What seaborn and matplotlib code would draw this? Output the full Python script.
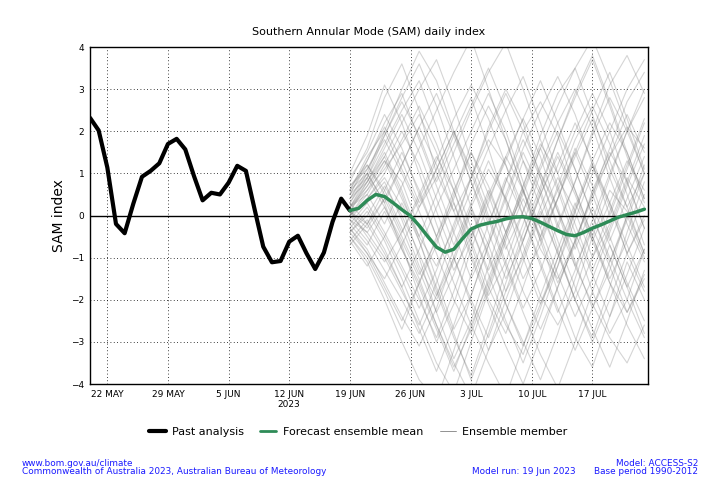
import numpy as np
import pandas as pd
import seaborn as sns
import matplotlib.pyplot as plt
from matplotlib.lines import Line2D

# Past analysis, daily 20 May - 19 Jun 2023
past_vals = [2.32, 2.02, 1.14, -0.2, -0.42, 0.28, 0.92, 1.06, 1.24, 1.7,
             1.82, 1.57, 0.94, 0.36, 0.54, 0.5, 0.78, 1.18, 1.06, 0.15,
             -0.74, -1.11, -1.08, -0.62, -0.48, -0.9, -1.27, -0.88, -0.15, 0.4,
             0.12]

# Forecast ensemble mean, daily from 19 Jun 2023
mean_vals = [0.12, 0.17, 0.36, 0.5, 0.45, 0.3, 0.14, -0.01, -0.24, -0.5,
             -0.75, -0.87, -0.8, -0.55, -0.32, -0.23, -0.18, -0.14, -0.08, -0.04,
             -0.03, -0.07, -0.16, -0.26, -0.36, -0.45, -0.48, -0.4, -0.3, -0.22,
             -0.13, -0.04, 0.02, 0.08, 0.15]

# Ensemble members, every second day from 19 Jun 2023
members = [
    [0.1, 0.8, 1.5, 0.6, -0.5, -1.2, -0.3, 0.9, 1.8, 1.2, 0.2, -0.8, -1.5, -0.6, 0.5, 1.4, 2.1, 1.6],
    [-0.3, -0.8, -1.6, -2.4, -3.1, -2.2, -1.0, 0.2, 1.1, 0.4, -0.7, -1.9, -2.6, -1.8, -0.5, 0.6, 0.1, -0.9],
    [0.5, 1.3, 2.2, 2.9, 1.8, 0.7, -0.4, -1.5, -0.6, 0.8, 2.0, 2.7, 1.9, 0.6, -0.5, -1.6, -2.3, -1.4],
    [0.0, 0.4, 0.9, 0.2, -1.0, -2.3, -3.4, -2.5, -1.2, 0.1, 1.3, 0.5, -0.8, -2.0, -2.9, -1.7, -0.4, 0.8],
    [0.8, 1.6, 2.8, 3.6, 2.5, 1.0, 0.1, 0.9, 2.1, 3.0, 2.2, 0.9, -0.3, 0.8, 2.0, 3.1, 3.8, 2.9],
    [-0.6, -1.2, -0.5, 0.3, -0.6, -1.8, -2.9, -3.8, -2.6, -1.3, -0.2, 1.0, 0.2, -1.1, -2.2, -1.3, 0.0, 1.2],
    [0.2, 0.6, 1.1, 1.7, 2.4, 1.5, 0.3, -0.9, -2.0, -2.8, -1.7, -0.5, 0.7, 1.8, 2.6, 1.7, 0.5, -0.7],
    [-0.1, -0.4, 0.2, -0.7, -1.9, -3.0, -2.1, -0.8, 0.3, 1.4, 2.3, 1.4, 0.1, -1.2, -0.3, 0.9, 2.0, 2.8],
    [0.4, 1.0, 0.3, -0.8, -1.6, -0.7, 0.5, 1.7, 2.6, 1.8, 0.6, -0.6, -1.8, -2.9, -3.6, -2.4, -1.1, -2.0],
    [0.6, 1.4, 2.0, 1.1, 0.2, 0.9, 1.9, 2.8, 1.6, 0.3, -1.0, -2.1, -1.2, 0.1, 1.2, 0.3, -0.9, -1.8],
    [-0.4, 0.1, -0.6, -1.5, -2.5, -3.5, -4.2, -3.0, -1.8, -0.6, 0.4, -0.5, -1.6, -0.7, 0.6, 1.5, 0.8, -0.3],
    [0.3, 0.9, 1.7, 2.5, 3.2, 2.1, 0.8, -0.3, -1.3, -0.4, 0.7, 1.9, 2.9, 3.5, 2.4, 1.1, 0.2, 1.0],
    [0.1, -0.5, -1.1, -0.4, 0.5, 1.4, 0.6, -0.6, -1.7, -2.6, -3.3, -2.2, -1.0, 0.2, 1.3, 2.2, 1.5, 0.4],
    [1.0, 1.9, 3.1, 2.2, 1.0, -0.2, -1.3, -0.5, 0.6, -0.4, -1.5, -0.7, 0.4, 1.6, 0.7, -0.5, -1.6, -2.5],
    [-0.2, 0.3, 0.8, -0.1, -1.2, -2.0, -1.1, 0.1, -0.9, -2.1, -3.0, -3.9, -2.8, -1.5, -0.3, -1.2, -2.3, -1.5],
    [0.2, 0.7, 1.3, 0.8, -0.3, -1.5, -2.7, -1.9, -0.7, 0.5, 1.6, 2.5, 3.3, 2.4, 1.2, 0.0, 1.1, 2.2],
    [-0.5, -1.0, -1.8, -2.7, -1.6, -0.5, 0.6, 1.5, 0.7, -0.4, 0.5, 1.6, 0.6, -0.6, -1.8, -2.8, -2.0, -0.8],
    [0.7, 1.2, 0.5, -0.4, 0.4, 1.3, 2.3, 3.1, 2.3, 1.2, 0.0, -1.2, -2.3, -1.3, -0.1, 1.0, 2.0, 3.0],
    [0.0, 0.5, 1.2, 2.0, 1.2, 0.1, -1.0, -2.1, -3.2, -2.3, -1.1, 0.0, 0.9, 0.1, -1.0, -0.2, 0.9, 0.2],
    [-0.7, -0.2, 0.4, -0.5, -1.4, -0.6, 0.3, -0.7, -1.9, -1.1, 0.1, 1.2, 2.2, 3.0, 2.1, 0.9, -0.2, -1.1],
    [0.4, 1.1, 1.8, 1.0, 0.1, -0.9, -2.0, -2.8, -1.7, -0.5, 0.6, -0.3, -1.4, -2.4, -1.5, -0.4, 0.7, 1.7],
    [0.1, -0.3, 0.4, 1.2, 2.1, 2.9, 1.9, 0.8, -0.2, 0.8, 1.8, 0.9, -0.2, -1.2, -2.1, -2.9, -3.5, -2.6],
    [0.9, 1.5, 2.4, 1.6, 0.5, -0.5, 0.4, 1.5, 0.5, -0.7, -1.8, -2.7, -1.7, -0.6, 0.5, 1.6, 2.7, 3.4],
    [-0.3, 0.2, -0.5, -1.3, -2.2, -1.3, -0.2, 0.9, 2.0, 2.9, 2.0, 1.0, 0.1, -0.8, 0.2, -0.7, -1.7, -0.8],
    [0.5, 0.9, 0.2, -0.6, -1.5, -2.6, -3.6, -2.7, -1.5, -0.4, 0.7, 1.7, 1.0, 2.0, 2.9, 2.0, 0.8, -0.3],
    [0.2, 0.8, 1.6, 2.4, 1.5, 0.4, -0.7, 0.3, 1.3, 0.4, -0.6, 0.5, 1.5, 0.6, -0.5, -1.5, -0.6, 0.5],
    [-0.1, -0.6, -1.3, -2.0, -2.8, -1.9, -0.8, 0.2, -0.7, -1.8, -1.0, 0.1, -0.9, -2.0, -3.0, -2.0, -0.9, 0.0],
    [0.6, 1.3, 2.1, 1.3, 0.3, 1.1, 2.0, 1.1, 0.0, -1.1, -2.2, -1.3, -0.2, 0.8, 1.9, 2.8, 2.0, 1.0],
    [0.3, -0.2, -0.9, -1.7, -0.8, 0.2, 1.1, 2.0, 2.9, 2.0, 0.8, -0.3, 0.6, 1.5, 0.5, -0.6, 0.4, 1.4],
    [-0.4, 0.0, 0.7, 0.0, -0.9, -1.9, -1.0, -2.0, -2.9, -1.8, -0.6, 0.5, 1.4, 0.5, -0.6, 0.3, 1.3, 0.6],
    [0.1, 0.7, 1.4, 2.2, 3.0, 3.7, 2.6, 1.3, 0.2, -0.8, 0.1, 1.1, 2.0, 1.1, 0.0, -1.0, -2.0, -2.9],
    [0.0, 0.3, -0.4, -1.2, -2.0, -2.9, -1.8, -0.6, 0.5, 1.4, 0.6, -0.5, 0.4, 1.4, 2.3, 1.3, 0.2, -0.9],
    [0.3, 1.0, 2.0, 3.0, 3.9, 3.2, 2.0, 0.8, -0.4, -1.5, -0.6, 0.6, 1.8, 2.9, 3.8, 2.7, 1.5, 0.4],
    [-0.5, -1.1, -2.0, -3.0, -3.9, -4.4, -3.2, -1.9, -0.7, 0.4, 1.5, 0.6, -0.6, -1.7, -2.7, -3.6, -2.5, -1.3],
    [0.2, 0.5, -0.2, 0.7, 1.6, 2.5, 3.4, 4.2, 3.0, 1.8, 0.6, -0.6, 0.4, 1.5, 2.5, 3.4, 2.3, 1.1],
    [-0.2, -0.7, 0.1, -0.8, -1.7, -2.7, -3.7, -2.6, -3.5, -4.3, -3.1, -1.9, -0.8, 0.3, -0.6, -1.6, -2.6, -3.4],
    [0.7, 1.1, 1.9, 2.7, 1.9, 0.8, 1.7, 2.6, 3.5, 2.5, 1.3, 0.2, -0.9, -2.0, -1.0, 0.1, 1.2, 2.3],
    [0.0, -0.4, -1.0, -1.8, -2.6, -1.6, -0.4, 0.6, 1.6, 2.5, 3.3, 2.2, 1.0, -0.2, -1.3, -0.3, 0.8, 1.9],
    [0.4, 0.8, 1.4, 0.5, -0.6, -1.7, -2.8, -3.9, -2.8, -1.6, -0.4, 0.7, 1.8, 2.8, 3.7, 2.6, 1.4, 0.3],
    [-0.1, 0.4, 1.0, 1.8, 2.6, 1.7, 0.6, -0.5, 0.4, 1.3, 2.3, 3.2, 2.2, 1.1, 0.0, -1.1, -0.1, 1.0],
    [0.5, 1.2, 0.6, -0.3, -1.3, -2.3, -1.4, -0.3, -1.4, -2.5, -3.5, -2.4, -1.2, -0.1, 1.0, 2.0, 3.0, 3.7],
    [-0.3, -0.9, -1.5, -0.7, 0.2, 1.1, 2.0, 1.0, -0.1, -1.2, -2.3, -3.3, -4.1, -3.0, -1.8, -0.7, -1.7, -2.8],
    [0.2, 0.9, 1.9, 2.8, 3.6, 2.6, 1.4, 0.2, -1.0, -2.1, -3.1, -2.1, -1.0, 0.1, 1.2, 0.2, -0.9, -0.1],
    [0.1, -0.2, 0.6, 1.5, 0.6, -0.5, -1.6, -2.6, -1.6, -0.5, 0.6, 1.6, 2.6, 3.5, 4.2, 3.2, 2.1, 1.0],
    [-0.6, -0.1, -0.8, -1.7, -2.7, -3.7, -2.6, -1.4, -0.2, 0.9, 0.0, -1.1, -2.2, -3.2, -2.2, -1.1, 0.0, -1.0],
    [0.6, 1.0, 0.3, 1.2, 2.1, 1.2, 0.1, -1.0, -2.1, -3.1, -4.0, -2.9, -1.7, -0.6, 0.4, 1.4, 2.4, 1.5],
    [0.0, 0.6, 1.3, 0.4, -0.5, 0.5, 1.5, 2.5, 3.4, 4.1, 3.0, 1.8, 0.7, -0.4, -1.4, -2.4, -1.4, -0.3],
    [-0.4, -0.9, -1.7, -2.5, -1.6, -2.6, -3.5, -4.3, -3.2, -2.0, -0.9, 0.2, 1.2, 2.2, 1.3, 0.3, -0.7, -1.7],
]

tick_dates = ["2023-05-22", "2023-05-29", "2023-06-05", "2023-06-12", "2023-06-19",
              "2023-06-26", "2023-07-03", "2023-07-10", "2023-07-17"]
tick_labels = ["22 MAY", "29 MAY", "5 JUN", "12 JUN\n2023", "19 JUN",
               "26 JUN", "3 JUL", "10 JUL", "17 JUL"]

past_dates = pd.date_range("2023-05-20", periods=len(past_vals), freq="D")
mean_dates = pd.date_range("2023-06-19", periods=len(mean_vals), freq="D")
mem_dates = pd.date_range("2023-06-19", periods=len(members[0]), freq="2D")

df_past = pd.DataFrame({"date": past_dates, "sam": past_vals})
df_mean = pd.DataFrame({"date": mean_dates, "sam": mean_vals})
df_mem = pd.concat(
    [pd.DataFrame({"date": mem_dates, "sam": m, "member": i}) for i, m in enumerate(members)],
    ignore_index=True)

sns.set_style("white")
plt.rcParams["font.family"] = ["DejaVu Sans"]
plt.rcParams.update({"text.color": "black", "axes.labelcolor": "black",
                     "xtick.color": "black", "ytick.color": "black"})

fig = plt.figure(figsize=(7.2, 4.8), dpi=100)
ax = fig.add_axes([0.125, 0.2, 0.775, 0.702])

sns.lineplot(data=df_mem, x="date", y="sam", units="member", estimator=None,
             color="grey", alpha=0.33, lw=0.8, ax=ax, legend=False)
ax.axhline(0, color="black", lw=1.0, zorder=3)
sns.lineplot(data=df_past, x="date", y="sam", color="black", lw=3, ax=ax, zorder=5)
sns.lineplot(data=df_mean, x="date", y="sam", color="#2e8b57", lw=2.5, ax=ax, zorder=6)

ax.set_xlim(pd.Timestamp("2023-05-20"), pd.Timestamp("2023-07-23 10:00"))
ax.set_ylim(-4, 4)
ax.set_xticks(pd.to_datetime(tick_dates))
ax.set_xticklabels(tick_labels, fontsize=6.5)
ax.set_yticks(range(-4, 5))
ax.set_yticklabels([str(v).replace("-", "\u2212") for v in range(-4, 5)], fontsize=6.5)
ax.tick_params(direction="in", length=4, width=0.8, pad=4)
ax.grid(True, color="black", linestyle=(0, (1, 3)), lw=0.6)
for s in ax.spines.values():
    s.set_color("black")
    s.set_linewidth(1.0)
ax.set_xlabel("")
ax.set_ylabel("SAM index", fontsize=10)
ax.set_title("Southern Annular Mode (SAM) daily index", fontsize=8, pad=9)

handles = [Line2D([], [], color="black", lw=3),
           Line2D([], [], color="#2e8b57", lw=2),
           Line2D([], [], color="grey", lw=0.6)]
fig.legend(handles, ["Past analysis", "Forecast ensemble mean", "Ensemble member"],
           loc="center", bbox_to_anchor=(0.498, 0.1), ncol=3, frameon=False,
           fontsize=8, handlelength=1.45, handletextpad=0.6, columnspacing=1.45)

blue = "#1a1aff"
fig.text(22 / 720, 1 - 463 / 480, "www.bom.gov.au/climate", color=blue, fontsize=6.4, va="center")
fig.text(22 / 720, 1 - 472 / 480, "Commonwealth of Australia 2023, Australian Bureau of Meteorology",
         color=blue, fontsize=6.4, va="center")
fig.text(698 / 720, 1 - 463 / 480, "Model: ACCESS-S2", color=blue, fontsize=6.4, va="center", ha="right")
fig.text(698 / 720, 1 - 472 / 480, "Base period 1990-2012", color=blue, fontsize=6.4, va="center", ha="right")
fig.text(576 / 720, 1 - 472 / 480, "Model run: 19 Jun 2023", color=blue, fontsize=6.4, va="center", ha="right")

fig.savefig("out.png", dpi=100)
